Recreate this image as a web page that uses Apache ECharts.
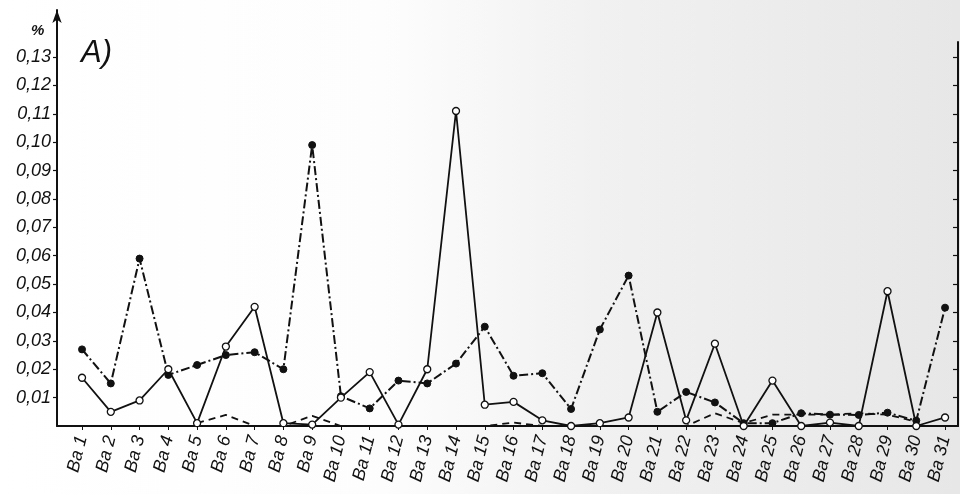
<!DOCTYPE html>
<html>
<head>
<meta charset="utf-8">
<script src="https://cdn.jsdelivr.net/npm/echarts@6/dist/echarts.min.js"></script>
<style>
  html, body { margin: 0; padding: 0; background: #fff; }
  #chart { width: 960px; height: 494px; }
</style>
</head>
<body>
<div id="chart"></div>
<script>
// Sampling sites Ba 1 … Ba 31
const categories = ['Ba 1','Ba 2','Ba 3','Ba 4','Ba 5','Ba 6','Ba 7','Ba 8','Ba 9','Ba 10',
  'Ba 11','Ba 12','Ba 13','Ba 14','Ba 15','Ba 16','Ba 17','Ba 18','Ba 19','Ba 20',
  'Ba 21','Ba 22','Ba 23','Ba 24','Ba 25','Ba 26','Ba 27','Ba 28','Ba 29','Ba 30','Ba 31'];

// Solid line, open circles (%)
const seriesSolid = [0.017, 0.005, 0.009, 0.020, 0.001, 0.028, 0.042, 0.001, 0.0005, 0.010,
  0.019, 0.0005, 0.020, 0.111, 0.0075, 0.0085, 0.002, 0.0, 0.001, 0.003,
  0.040, 0.002, 0.029, 0.0, 0.016, 0.0, 0.0012, 0.0, 0.0475, 0.0, 0.003];

// Dash-dot line, filled dots (%)
const seriesDashDot = [0.027, 0.015, 0.059, 0.018, 0.0215, 0.025, 0.026, 0.020, 0.099, 0.0105,
  0.0062, 0.016, 0.015, 0.022, 0.035, 0.0177, 0.0186, 0.006, 0.034, 0.053,
  0.005, 0.012, 0.0083, 0.001, 0.001, 0.0045, 0.004, 0.0039, 0.0047, 0.0019, 0.0417];

// Dashed line without markers (%)
const seriesDashed = [null, null, null, null, 0.001, 0.0039, 0, 0, 0.0036, 0,
  0, 0, 0, 0, 0, 0.0012, 0, 0, 0, 0,
  0, 0, 0.0045, 0.001, 0.004, 0.004, 0.004, 0.0045, 0.004, 0.0015, null];

// Y tick values and their printed labels
const yTickValues = [0.01, 0.02, 0.03, 0.04, 0.05, 0.06, 0.07, 0.08, 0.09, 0.10, 0.11, 0.12, 0.13];
const yTickLabels = ['0,01','0,02','0,03','0,04','0,05','0,06','0,07','0,08','0,09','0,10','0,11','0,12','0,13'];

const positions = categories.map((_, i) => i + 1);
const toPairs = arr => arr.map((v, i) => [i + 1, v]);

const ink = '#111';
const labelFont = { fontFamily: 'Liberation Sans', fontStyle: 'italic', color: ink };

const chart = echarts.init(document.getElementById('chart'), null, { renderer: 'canvas' });

chart.setOption({
  animation: false,
  backgroundColor: {
    type: 'linear', x: 0, y: 0, x2: 1, y2: 0,
    colorStops: [
      { offset: 0, color: '#ffffff' },
      { offset: 0.4, color: '#fdfdfd' },
      { offset: 0.62, color: '#f1f1f1' },
      { offset: 1, color: '#e7e7e7' }
    ]
  },
  title: [
    { text: '%', left: 26, top: 18, textStyle: Object.assign({ fontSize: 15, fontWeight: 'bold' }, labelFont) },
    { text: 'A)', left: 76, top: 33, textStyle: Object.assign({ fontSize: 31, fontWeight: 'normal' }, labelFont) }
  ],
  grid: [
    { left: 57, right: 2, top: 10, bottom: 68 },
    { left: 57, right: 2, top: 42, bottom: 68 }
  ],
  xAxis: [
    {
      type: 'value', gridIndex: 0, min: 0.13, max: 31.45,
      axisLine: { show: true, onZero: false, lineStyle: { color: ink, width: 2 } },
      axisTick: { show: true, customValues: positions, length: 4, lineStyle: { color: ink, width: 1 } },
      axisLabel: Object.assign({
        customValues: positions,
        formatter: v => categories[Math.round(v) - 1] || '',
        rotate: 76, fontSize: 18, margin: 10
      }, labelFont),
      splitLine: { show: false }
    },
    {
      type: 'value', gridIndex: 1, min: 0.13, max: 31.45, show: false
    }
  ],
  yAxis: [
    {
      type: 'value', gridIndex: 0, min: 0, max: 0.1466, position: 'left',
      axisLine: { show: true, lineStyle: { color: ink, width: 2 }, symbol: ['none', 'arrow'], symbolSize: [7, 13] },
      axisTick: { show: true, customValues: yTickValues, length: 4, lineStyle: { color: ink, width: 1.2 } },
      axisLabel: Object.assign({
        customValues: yTickValues,
        formatter: v => {
          const k = yTickValues.findIndex(t => Math.abs(t - v) < 1e-6);
          return k >= 0 ? yTickLabels[k] : '';
        },
        fontSize: 18, margin: 6
      }, labelFont),
      splitLine: { show: false }
    },
    {
      type: 'value', gridIndex: 1, min: 0, max: 0.1353, position: 'right',
      axisLine: { show: true, lineStyle: { color: ink, width: 2 } },
      axisTick: { show: true, inside: true, customValues: yTickValues, length: 5, lineStyle: { color: ink, width: 1.2 } },
      axisLabel: { show: false },
      splitLine: { show: false }
    }
  ],
  series: [
    {
      name: 'dashed', type: 'line', xAxisIndex: 0, yAxisIndex: 0,
      data: toPairs(seriesDashed), connectNulls: false,
      symbol: 'none',
      lineStyle: { color: ink, width: 1.8, type: [7, 5] },
      z: 2
    },
    {
      name: 'dash-dot', type: 'line', xAxisIndex: 0, yAxisIndex: 0,
      data: toPairs(seriesDashDot),
      symbol: 'circle', symbolSize: 7, showAllSymbol: true,
      itemStyle: { color: ink, borderColor: ink, borderWidth: 1 },
      lineStyle: { color: ink, width: 2, type: [9, 3, 2, 3] },
      z: 3
    },
    {
      name: 'solid', type: 'line', xAxisIndex: 0, yAxisIndex: 0,
      data: toPairs(seriesSolid),
      symbol: 'circle', symbolSize: 7, showAllSymbol: true,
      itemStyle: { color: '#ffffff', borderColor: ink, borderWidth: 1.3 },
      lineStyle: { color: ink, width: 1.8, type: 'solid' },
      z: 4
    }
  ]
});
</script>
</body>
</html>
